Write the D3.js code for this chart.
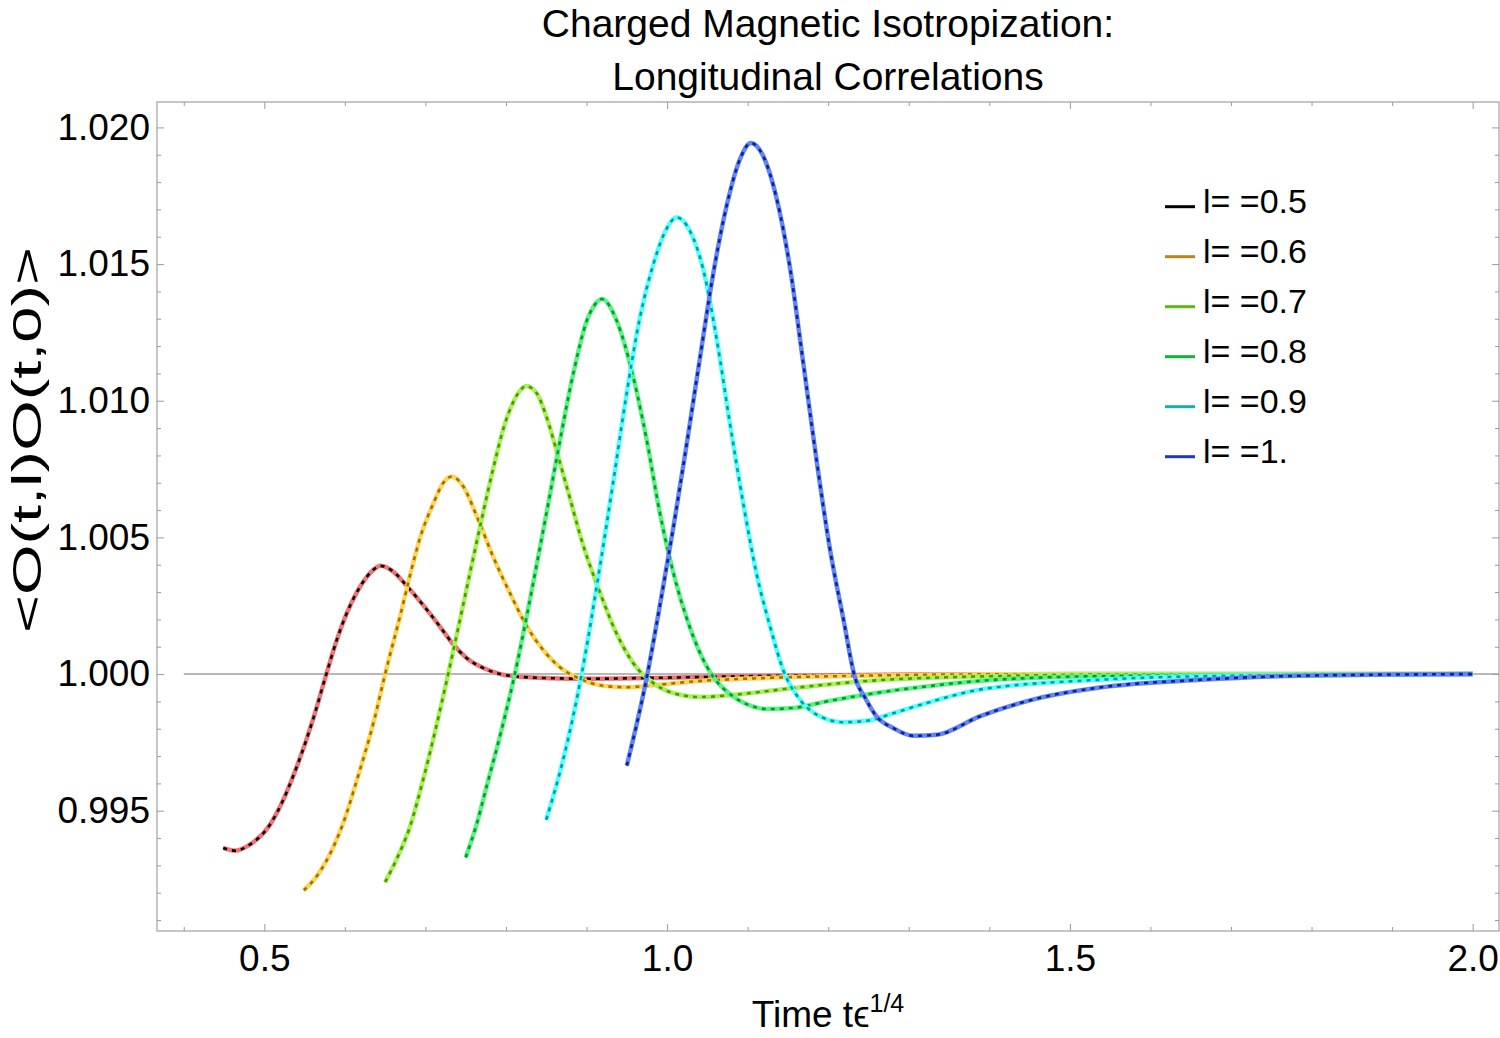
<!DOCTYPE html>
<html>
<head>
<meta charset="utf-8">
<script src="https://cdnjs.cloudflare.com/ajax/libs/d3/7.8.5/d3.min.js"></script>
<style>
body { margin: 0; background: #fff; }
svg { display: block; font-family: "Liberation Sans", Arial, sans-serif; }
</style>
</head>
<body>
<svg id="graph" width="1500" height="1038"></svg>
<script>
// legend / series info
let lValues = [0.5, 0.6, 0.7, 0.8, 0.9, 1.0]
let legendLabels = ["l= =0.5", "l= =0.6", "l= =0.7", "l= =0.8", "l= =0.9", "l= =1."]
let xTicks = [0.5, 1.0, 1.5, 2.0]
let xTickLabels = ["0.5", "1.0", "1.5", "2.0"]
let yTicks = [0.995, 1.000, 1.005, 1.010, 1.015, 1.020]
let yTickLabels = ["0.995", "1.000", "1.005", "1.010", "1.015", "1.020"]

// curves, [t, value]
let curveL05 = [[0.449,0.99364],[0.464,0.99354],[0.482,0.99376],[0.507,0.99449],[0.522,0.99530],[0.534,0.99613],[0.561,0.99839],[0.577,1.0000],[0.590,1.00125],[0.602,1.00220],[0.615,1.00300],[0.627,1.00355],[0.636,1.00383],[0.644,1.00396],[0.660,1.00375],[0.677,1.00322],[0.697,1.00253],[0.718,1.00174],[0.735,1.00107],[0.751,1.00059],[0.772,1.00022],[0.793,1.0000],[0.813,0.99991],[0.855,0.99985],[0.900,0.99983],[1.000,0.99987],[1.140,0.99994],[1.300,0.99998],[1.500,1.0],[2.0,1.0]]
let curveL06 = [[0.549,0.99209],[0.565,0.99260],[0.586,0.99369],[0.598,0.99455],[0.615,0.99613],[0.637,0.99839],[0.650,1.0000],[0.6685,1.00211],[0.685,1.00409],[0.693,1.00495],[0.710,1.00625],[0.722,1.00699],[0.733,1.00723],[0.747,1.00686],[0.764,1.00576],[0.784,1.00430],[0.805,1.00296],[0.826,1.00174],[0.846,1.00089],[0.867,1.00025],[0.890,0.99985],[0.921,0.99957],[0.950,0.99952],[0.979,0.99958],[1.033,0.99973],[1.115,0.99985],[1.240,0.99994],[1.400,0.99999],[2.0,1.0]]
let curveL07 = [[0.650,0.99239],[0.664,0.99321],[0.681,0.99443],[0.695,0.99589],[0.712,0.99790],[0.729,1.00010],[0.743,1.00200],[0.759,1.00420],[0.772,1.00595],[0.784,1.00750],[0.797,1.00900],[0.809,1.00995],[0.817,1.01035],[0.825,1.01054],[0.838,1.01028],[0.851,1.00935],[0.863,1.00815],[0.875,1.00690],[0.896,1.00470],[0.917,1.00296],[0.937,1.00150],[0.958,1.00040],[0.983,0.99967],[1.008,0.99930],[1.041,0.99916],[1.082,0.99924],[1.157,0.99949],[1.240,0.99973],[1.384,0.99991],[1.600,0.99999],[2.0,1.0]]
let curveL08 = [[0.750,0.99329],[0.764,0.99455],[0.776,0.99589],[0.794,0.99790],[0.811,1.0000],[0.826,1.00215],[0.842,1.00460],[0.851,1.00600],[0.863,1.00790],[0.884,1.01105],[0.900,1.01290],[0.910,1.01350],[0.919,1.01372],[0.937,1.01296],[0.958,1.01087],[0.975,1.00852],[0.991,1.00590],[1.008,1.00368],[1.028,1.00173],[1.049,1.00029],[1.057,0.99991],[1.082,0.99918],[1.107,0.99881],[1.124,0.99872],[1.157,0.99876],[1.198,0.99900],[1.260,0.99931],[1.322,0.99955],[1.388,0.99975],[1.550,0.99993],[2.0,1.0]]
let curveL09 = [[0.850,0.99467],[0.871,0.99687],[0.894,1.0000],[0.917,1.00400],[0.933,1.00700],[0.950,1.01030],[0.966,1.01300],[0.983,1.01500],[0.9995,1.01630],[1.012,1.01671],[1.028,1.01623],[1.045,1.01479],[1.062,1.01218],[1.078,1.00917],[1.095,1.00617],[1.111,1.00368],[1.128,1.00173],[1.144,1.00016],[1.165,0.99906],[1.190,0.99845],[1.219,0.99824],[1.248,0.99829],[1.281,0.99857],[1.322,0.99894],[1.388,0.99943],[1.537,0.99979],[1.700,0.99994],[2.0,1.0]]
let curveL10 = [[0.950,0.99665],[0.975,0.99991],[0.991,1.00250],[1.008,1.00540],[1.024,1.00835],[1.041,1.01160],[1.057,1.01460],[1.074,1.01714],[1.0905,1.01884],[1.104,1.01943],[1.119,1.01897],[1.136,1.01740],[1.153,1.01479],[1.169,1.01139],[1.186,1.00773],[1.202,1.00460],[1.219,1.00199],[1.233,0.99990],[1.246,0.99912],[1.260,0.99845],[1.281,0.99802],[1.306,0.99774],[1.335,0.99778],[1.388,0.99845],[1.460,0.99911],[1.537,0.99951],[1.662,0.99979],[1.786,0.99994],[2.0,1.0]]
let curves = [curveL05, curveL06, curveL07, curveL08, curveL09, curveL10]

// styles
let solidColors = ["#f27474", "#ffd45a", "#a8f05c", "#5ff088", "#55ffff", "#6484f2"]
let dashColors = ["#000000", "#9c7400", "#4c9a00", "#00a028", "#00a0a0", "#0822a0"]
let legendColors = ["#000000", "#b8861a", "#5cb816", "#16b034", "#16b0b0", "#1a3ac0"]

let frame = {left: 157, right: 1499, top: 102, bottom: 931}

let chart = {}
chart.init = () => {
    chart.svg = d3.select("#graph")
    chart.x = d3.scaleLinear().domain([0.3668, 2.0327]).range([frame.left, frame.right])
    chart.y = d3.scaleLinear().domain([0.99060, 1.02093]).range([frame.bottom, frame.top])

    chart.svg.append("clipPath").attr("id", "plotclip")
        .append("rect")
        .attr("x", frame.left).attr("y", frame.top)
        .attr("width", frame.right - frame.left).attr("height", frame.bottom - frame.top)
}

chart.axes = () => {
    let x = chart.x, y = chart.y
    let xMinor = d3.range(4, 21).map(d => d / 10).filter(d => !xTicks.includes(d))
    let yMinor = d3.range(991, 1021).map(d => d / 1000).filter(d => Math.round(d * 1000) % 5 != 0)

    // minor ticks, all 4 sides
    let minors = [
        [d3.axisBottom(x).tickValues(xMinor), frame.bottom, "x"],
        [d3.axisTop(x).tickValues(xMinor), frame.top, "x"],
        [d3.axisLeft(y).tickValues(yMinor), frame.left, "y"],
        [d3.axisRight(y).tickValues(yMinor), frame.right, "y"]
    ]
    minors.forEach(([ax, pos, dir]) => {
        let g = chart.svg.append("g")
            .attr("transform", dir == "x" ? `translate(0,${pos})` : `translate(${pos},0)`)
            .attr("color", "#9a9a9a")
            .call(ax.tickSize(-4).tickFormat(""))
        g.select(".domain").remove()
    })

    // major ticks with labels
    let gb = chart.svg.append("g").attr("transform", `translate(0,${frame.bottom})`)
        .attr("color", "#9a9a9a")
        .call(d3.axisBottom(x).tickValues(xTicks).tickFormat((d, i) => xTickLabels[i]).tickSize(-7).tickPadding(14))
    gb.select(".domain").remove()
    gb.selectAll("text").attr("fill", "#000").style("font-size", "37px")

    let gt = chart.svg.append("g").attr("transform", `translate(0,${frame.top})`)
        .attr("color", "#9a9a9a")
        .call(d3.axisTop(x).tickValues(xTicks).tickFormat("").tickSize(-7))
    gt.select(".domain").remove()

    let gl = chart.svg.append("g").attr("transform", `translate(${frame.left},0)`)
        .attr("color", "#9a9a9a")
        .call(d3.axisLeft(y).tickValues(yTicks).tickFormat((d, i) => yTickLabels[i]).tickSize(-7).tickPadding(7))
    gl.select(".domain").remove()
    gl.selectAll("text").attr("fill", "#000").style("font-size", "37px")

    let gr = chart.svg.append("g").attr("transform", `translate(${frame.right},0)`)
        .attr("color", "#9a9a9a")
        .call(d3.axisRight(y).tickValues(yTicks).tickFormat("").tickSize(-7))
    gr.select(".domain").remove()

    // frame
    chart.svg.append("rect")
        .attr("x", frame.left).attr("y", frame.top)
        .attr("width", frame.right - frame.left).attr("height", frame.bottom - frame.top)
        .attr("fill", "none").attr("stroke", "#a0a0a0").attr("stroke-width", 1.2)

    // the y = 1 axis line
    chart.svg.append("line")
        .attr("x1", x(0.4)).attr("x2", frame.right)
        .attr("y1", y(1)).attr("y2", y(1))
        .attr("stroke", "#a0a0a0").attr("stroke-width", 1.5)
}

chart.draw = () => {
    let line = d3.line()
        .x(d => chart.x(d[0]))
        .y(d => chart.y(d[1]))
        .curve(d3.curveMonotoneX)
    let plotg = chart.svg.append("g").attr("clip-path", "url(#plotclip)")
    curves.forEach((c, i) => {
        plotg.append("path").attr("d", line(c))
            .attr("fill", "none").attr("stroke", solidColors[i]).attr("stroke-width", 4.5)
        plotg.append("path").attr("d", line(c))
            .attr("fill", "none").attr("stroke", dashColors[i]).attr("stroke-width", 2.6)
            .attr("stroke-dasharray", "4,5")
    })
}

chart.labels = () => {
    let svg = chart.svg
    let cx = (frame.left + frame.right) / 2
    svg.append("text").attr("x", cx).attr("y", 37).attr("text-anchor", "middle")
        .style("font-size", "39px").text("Charged Magnetic Isotropization:")
    svg.append("text").attr("x", cx).attr("y", 90).attr("text-anchor", "middle")
        .style("font-size", "39px").text("Longitudinal Correlations")

    let xl = svg.append("text").attr("x", cx).attr("y", 1027).attr("text-anchor", "middle")
        .style("font-size", "37px")
    xl.append("tspan").text("Time t\u03F5")
    xl.append("tspan").attr("dy", -15).style("font-size", "25px").text("1/4")

    // the frame label runs long down the side in the original
    svg.append("text").attr("transform", "translate(41,440) rotate(-90)")
        .attr("text-anchor", "middle").style("font-size", "40px")
        .attr("textLength", 386).attr("lengthAdjust", "spacingAndGlyphs")
        .text("<O(t,l)O(t,0)>")

    // legend
    let lg = svg.append("g")
    lValues.forEach((l, i) => {
        let ly = 206.7 + i * 50
        lg.append("line").attr("x1", 1165).attr("x2", 1195).attr("y1", ly).attr("y2", ly)
            .attr("stroke", legendColors[i]).attr("stroke-width", 3)
        lg.append("text").attr("x", 1203).attr("y", ly + 6.6)
            .style("font-size", "34px").text(legendLabels[i])
    })
}

chart.init()
chart.axes()
chart.draw()
chart.labels()
</script>
</body>
</html>
